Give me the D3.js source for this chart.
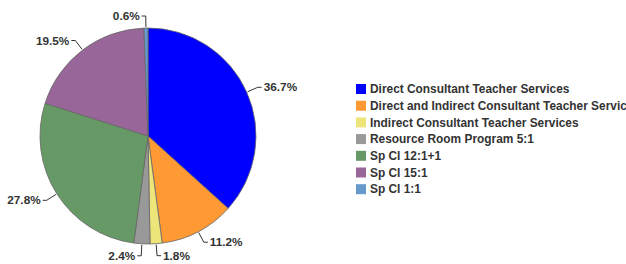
<!DOCTYPE html>
<html>
<head>
<meta charset="utf-8">
<script src="https://cdn.jsdelivr.net/npm/d3@7"></script>
<style>
  body { margin: 0; background: #fff; }
  text { font-family: "Liberation Sans", Arial, sans-serif; font-weight: bold; fill: #333; }
</style>
</head>
<body>
<div id="chart"></div>
<script>
// categories and their shares (percent)
const categories = [
  "Direct Consultant Teacher Services",
  "Direct and Indirect Consultant Teacher Servic",
  "Indirect Consultant Teacher Services",
  "Resource Room Program 5:1",
  "Sp Cl 12:1+1",
  "Sp Cl 15:1",
  "Sp Cl 1:1"
];
const values = [36.7, 11.2, 1.8, 2.4, 27.8, 19.5, 0.6];
const colors = ["#0000ff", "#ff9933", "#eee57a", "#999999", "#669966", "#996699", "#6699cc"];

const width = 626, height = 264;
const cx = 148, cy = 136, radius = 108;

const svg = d3.select("#chart")
  .append("svg")
  .attr("width", width)
  .attr("height", height);

const pie = d3.pie().sort(null).value(d => d.value);
const arc = d3.arc().innerRadius(0).outerRadius(radius);

const data = categories.map((c, i) => ({ name: c, value: values[i], color: colors[i] }));
const arcs = pie(data);

const g = svg.append("g").attr("transform", `translate(${cx},${cy})`);

g.selectAll("path.slice")
  .data(arcs)
  .enter()
  .append("path")
  .attr("class", "slice")
  .attr("d", arc)
  .attr("fill", d => d.data.color)
  .attr("stroke", "#666")
  .attr("stroke-width", 0.8);

// data labels with elbow connectors
arcs.forEach(d => {
  const mid = (d.startAngle + d.endAngle) / 2;
  const sx = Math.sin(mid), sy = -Math.cos(mid);
  const right = sx >= 0;
  const p0 = [sx * (radius + 1), sy * (radius + 1)];
  const p1 = [sx * (radius + 12), sy * (radius + 12)];
  const p2 = [p1[0] + (right ? 4 : -4), p1[1]];

  g.append("path")
    .attr("d", d3.line()([p0, p1, p2]))
    .attr("fill", "none")
    .attr("stroke", "#333")
    .attr("stroke-width", 1);

  g.append("text")
    .attr("x", p2[0] + (right ? 2 : -2))
    .attr("y", p2[1])
    .attr("dy", "0.35em")
    .attr("text-anchor", right ? "start" : "end")
    .style("font-size", "11.8px")
    .text(d3.format(".1f")(d.data.value) + "%");
});

// legend
const legend = svg.append("g").attr("transform", "translate(356,89)");
const rowH = 16.7;

const items = legend.selectAll("g.item")
  .data(data)
  .enter()
  .append("g")
  .attr("class", "item")
  .attr("transform", (d, i) => `translate(0,${i * rowH})`);

items.append("rect")
  .attr("x", 0)
  .attr("y", -5)
  .attr("width", 10)
  .attr("height", 10)
  .attr("fill", d => d.color);

items.append("text")
  .attr("x", 14)
  .attr("y", 0)
  .attr("dy", "0.35em")
  .style("font-size", "11.9px")
  .text(d => d.name);
</script>
</body>
</html>
